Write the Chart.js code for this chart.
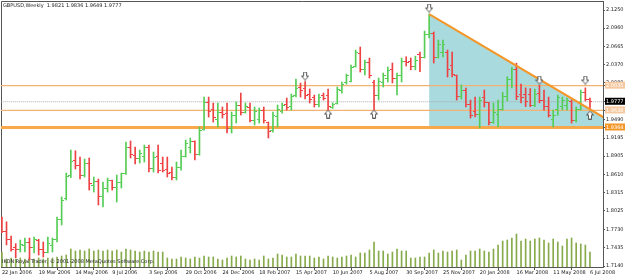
<!DOCTYPE html>
<html>
<head>
<meta charset="utf-8">
<style>
  html, body { margin: 0; padding: 0; background: #fff; }
  canvas { display: block; }
</style>
</head>
<body>
<canvas id="chart" width="625" height="277"></canvas>
<script src="https://cdn.jsdelivr.net/npm/chart.js"></script>
<script>
"use strict";

const titleText = 'GBPUSD,Weekly  1.9821 1.9836 1.9649 1.9777';
const copyText = 'IKON Royal Trader, \u00A9 2001-2008 MetaQuotes Software Corp.';

// one label every 8 weekly bars, first bar = 22 Jan 2006
const dateLabels = ['22 Jan 2006', '19 Mar 2006', '14 May 2006', '9 Jul 2006', '3 Sep 2006',
  '29 Oct 2006', '24 Dec 2006', '18 Feb 2007', '15 Apr 2007', '10 Jun 2007', '5 Aug 2007',
  '30 Sep 2007', '25 Nov 2007', '20 Jan 2008', '16 Mar 2008', '11 May 2008', '6 Jul 2008'];

const priceTicks = [2.1250, 2.0960, 2.0665, 2.0370, 2.0080, 1.9490, 1.9195, 1.8905,
  1.8610, 1.8315, 1.8025, 1.7730, 1.7435, 1.7140];

const opens = [1.7860,1.7700,1.7560,1.7440,1.7400,1.7470,1.7520,1.7430,1.7550,1.7400,
  1.7360,1.7470,1.7560,1.7880,1.8220,1.8600,1.8830,1.8750,1.8600,1.8790,
  1.8440,1.8500,1.8250,1.8390,1.8510,1.8400,1.8480,1.8620,1.9050,1.8920,
  1.8870,1.8900,1.9040,1.8700,1.8900,1.8780,1.8690,1.8640,1.8560,1.8720,
  1.8900,1.9050,1.9140,1.8930,1.9330,1.9770,1.9660,1.9500,1.9610,1.9590,
  1.9350,1.9550,1.9720,1.9610,1.9690,1.9480,1.9500,1.9640,1.9440,1.9310,
  1.9540,1.9620,1.9740,1.9700,1.9870,2.0000,1.9990,1.9890,1.9840,1.9740,
  1.9870,1.9880,1.9690,1.9750,1.9950,2.0080,2.0110,2.0340,2.0550,2.0300,
  2.0400,2.0090,1.9880,2.0080,2.0150,2.0300,2.0150,2.0200,2.0430,2.0420,
  2.0340,2.0540,2.0490,2.0850,2.0880,2.0490,2.0570,2.0560,2.0360,2.0200,
  1.9860,1.9950,1.9740,1.9620,1.9570,1.9850,1.9760,1.9450,1.9580,1.9650,
  1.9860,2.0140,2.0290,1.9900,1.9900,1.9900,1.9710,1.9910,1.9800,1.9700,
  1.9500,1.9660,1.9700,1.9720,1.9780,1.9480,1.9660,1.9930,1.9821];

const highs = [1.7925,1.7850,1.7620,1.7500,1.7558,1.7590,1.7590,1.7606,1.7570,1.7526,
  1.7606,1.7590,1.7927,1.8249,1.8633,1.9002,1.8990,1.8890,1.8858,1.8874,
  1.8569,1.8537,1.8489,1.8553,1.8520,1.8601,1.8633,1.9131,1.9147,1.9050,
  1.9002,1.9083,1.9083,1.8970,1.9083,1.8890,1.8890,1.8730,1.8810,1.9002,
  1.9163,1.9195,1.9150,1.9372,1.9853,1.9853,1.9757,1.9757,1.9693,1.9757,
  1.9613,1.9773,1.9917,1.9757,1.9757,1.9693,1.9677,1.9693,1.9452,1.9613,
  1.9725,1.9757,1.9837,1.9902,2.0142,2.0078,2.0100,1.9982,1.9885,1.9901,
  1.9917,1.9982,1.9760,2.0014,2.0094,2.0222,2.0367,2.0607,2.0656,2.0447,
  2.0479,2.0120,2.0158,2.0238,2.0335,2.0399,2.0238,2.0479,2.0500,2.0480,
  2.0510,2.0575,2.0912,2.1185,2.0897,2.0768,2.0768,2.0607,2.0575,2.0206,
  2.0046,1.9997,1.9805,1.9853,1.9853,1.9965,1.9770,1.9757,1.9805,1.9930,
  2.0180,2.0330,2.0397,2.0060,2.0000,1.9990,1.9980,2.0040,1.9965,1.9853,
  1.9644,1.9885,1.9853,1.9837,1.9805,1.9693,1.9965,2.0000,1.9836];

const lows = [1.7675,1.7480,1.7380,1.7275,1.7365,1.7365,1.7240,1.7350,1.7317,1.7285,
  1.7350,1.7365,1.7526,1.7799,1.8200,1.8560,1.8698,1.8537,1.8569,1.8360,
  1.8328,1.8120,1.8088,1.8328,1.8360,1.8168,1.8393,1.8610,1.8874,1.8780,
  1.8794,1.8810,1.8649,1.8649,1.8633,1.8649,1.8569,1.8521,1.8521,1.8681,
  1.8890,1.8954,1.8842,1.8920,1.9323,1.9532,1.9452,1.9372,1.9516,1.9275,
  1.9275,1.9436,1.9564,1.9596,1.9452,1.9404,1.9436,1.9436,1.9195,1.9291,
  1.9372,1.9596,1.9644,1.9644,1.9853,1.9853,1.9821,1.9757,1.9693,1.9693,
  1.9805,1.9644,1.9670,1.9740,1.9917,2.0060,2.0094,2.0335,2.0254,2.0206,
  2.0158,1.9644,1.9805,2.0014,2.0094,2.0078,1.9885,2.0094,2.0350,2.0290,
  2.0290,2.0260,2.0480,2.0800,2.0399,2.0479,2.0495,2.0174,2.0174,1.9805,
  1.9821,1.9693,1.9516,1.9532,1.9356,1.9693,1.9404,1.9430,1.9372,1.9640,
  1.9790,2.0000,1.9810,1.9760,1.9700,1.9700,1.9700,1.9760,1.9644,1.9532,
  1.9372,1.9560,1.9644,1.9644,1.9436,1.9452,1.9644,1.9790,1.9649];

const closes = [1.7700,1.7560,1.7410,1.7400,1.7480,1.7520,1.7430,1.7560,1.7400,1.7350,
  1.7500,1.7560,1.7880,1.8200,1.8580,1.8820,1.8760,1.8600,1.8790,1.8460,
  1.8500,1.8260,1.8390,1.8510,1.8400,1.8480,1.8620,1.9050,1.8930,1.8870,
  1.8940,1.9040,1.8700,1.8890,1.8680,1.8680,1.8620,1.8560,1.8720,1.8900,
  1.9100,1.9140,1.8930,1.9320,1.9770,1.9620,1.9530,1.9600,1.9580,1.9350,
  1.9560,1.9720,1.9600,1.9700,1.9480,1.9620,1.9640,1.9470,1.9300,1.9560,
  1.9650,1.9720,1.9690,1.9860,1.9990,1.9960,1.9880,1.9810,1.9740,1.9850,
  1.9830,1.9700,1.9740,1.9980,2.0060,2.0200,2.0330,2.0560,2.0300,2.0400,
  2.0200,1.9880,2.0100,2.0200,2.0280,2.0150,2.0200,2.0420,2.0400,2.0340,
  2.0440,2.0480,2.0850,2.0880,2.0480,2.0700,2.0700,2.0300,2.0220,1.9860,
  1.9950,1.9740,1.9560,1.9570,1.9800,1.9760,1.9450,1.9600,1.9650,1.9860,
  2.0140,2.0290,1.9860,1.9850,1.9780,1.9710,1.9900,1.9800,1.9700,1.9560,
  1.9560,1.9840,1.9800,1.9790,1.9480,1.9660,1.9930,1.9821,1.9777];

const volumes = [15000,8000,9000,8000,9000,8000,9000,8000,9000,8000,
  9000,9000,10000,11000,12000,18000,16000,17000,16000,18000,
  16000,17000,16000,17000,16000,17000,15000,18000,17000,16000,
  15000,16000,15000,16000,15000,15000,9000,8000,8000,10000,
  9000,8000,10000,9000,11000,10000,10000,8000,7000,9000,
  11000,10000,11000,8000,7000,8000,7000,11000,8000,9000,
  13000,12000,10000,10000,13000,11000,11000,11000,9000,10000,
  8000,11000,10000,9000,10000,11000,12000,10000,14000,14000,
  17000,25000,16000,16000,13000,15000,18000,16000,16000,9000,
  9000,10000,10000,14000,17000,14000,16000,15000,16000,17000,
  7000,12000,16000,16000,18000,16000,15000,18000,22000,26000,
  27000,29000,33000,26000,28000,26000,28000,29000,27000,24000,
  28000,25000,21000,28000,29000,24000,23000,22000,15000];

const resistLevel = 2.0035;
const midLevel = 1.9638;
const supportLevel = 1.9364;
const lastPrice = 1.9777;

// triangle: [week, price]
const triangle = [[93, 2.1185], [134.7, 1.9364], [93, 1.9364]];
const arrowsDown = [[66, 2.0190], [93, 2.1282], [117, 2.0126], [127, 2.0126]];
const arrowsUp = [[71, 1.9580], [81, 1.9580], [128, 1.9564]];

const UP = 'rgb(85, 205, 85)';
const DOWN = 'rgb(238, 66, 66)';
const VOL = 'rgb(135, 170, 75)';
const FONT = { family: '"DejaVu Sans"', size: 5 };

function tickImage(color, left) {
  const c = document.createElement('canvas');
  c.width = 5; c.height = 1;
  const g = c.getContext('2d');
  g.fillStyle = color;
  g.fillRect(left ? 0 : 3, 0, 2, 1);
  return c;
}
const openUp = tickImage(UP, true), openDown = tickImage(DOWN, true);
const closeUp = tickImage(UP, false), closeDown = tickImage(DOWN, false);

function arrowImage(down) {
  const c = document.createElement('canvas');
  c.width = 8; c.height = 9;
  const g = c.getContext('2d');
  const pts = [[2.5, 0.5], [5.5, 0.5], [5.5, 4.5], [7.5, 4.5], [4, 8.5], [0.5, 4.5], [2.5, 4.5]];
  g.beginPath();
  pts.forEach(([x, y], i) => {
    const yy = down ? y : 9 - y;
    if (i) g.lineTo(x, yy); else g.moveTo(x, yy);
  });
  g.closePath();
  g.fillStyle = '#fff';
  g.fill();
  g.strokeStyle = '#555';
  g.lineWidth = 1;
  g.stroke();
  return c;
}

const weeks = opens.map((_, i) => i);
const isUp = i => closes[i] >= opens[i];
const specials = [resistLevel, midLevel, supportLevel, lastPrice];
const isSpecial = v => specials.some(s => Math.abs(s - v) < 1e-6);

function specialBack(v) {
  if (Math.abs(v - lastPrice) < 1e-6) return '#000';
  if (Math.abs(v - supportLevel) < 1e-6) return 'rgb(245,150,40)';
  return 'rgb(246,200,160)';
}

function hLine(v, color, width, dash, order) {
  return {
    type: 'line', data: [{ x: -1, y: v }, { x: 140, y: v }],
    borderColor: color, borderWidth: width, borderDash: dash || [],
    pointRadius: 0, fill: false, order: order, yAxisID: 'y'
  };
}

const decor = {
  id: 'decor',
  beforeDatasetsDraw(chart) {
    const { ctx, chartArea: a } = chart;
    ctx.save();
    ctx.strokeStyle = '#555';
    ctx.lineWidth = 1;
    ctx.beginPath();
    ctx.moveTo(a.left + 0.5, a.bottom);
    ctx.lineTo(a.left + 0.5, a.top + 0.5);
    ctx.lineTo(a.right, a.top + 0.5);
    ctx.stroke();
    ctx.restore();
  },
  afterDraw(chart) {
    const { ctx, chartArea: a } = chart;
    ctx.save();
    ctx.font = '5px "DejaVu Sans"';
    ctx.fillStyle = '#222';
    ctx.textBaseline = 'middle';
    ctx.fillText(titleText, a.left + 2, a.top + 5);
    ctx.fillText(copyText, a.left + 1, a.bottom - 5);
    ctx.restore();
  }
};

new Chart(document.getElementById('chart'), {
  type: 'bar',
  data: {
    datasets: [
      {
        type: 'line', data: triangle.concat([triangle[0]]).map(([x, y]) => ({ x, y })),
        fill: 'shape', backgroundColor: 'rgb(168,218,222)', borderWidth: 0,
        pointRadius: 0, order: 20, yAxisID: 'y'
      },
      {
        type: 'bar', data: weeks.map(i => ({ x: i, y: volumes[i] })),
        backgroundColor: VOL, barThickness: 1, grouped: false, order: 15, yAxisID: 'yv'
      },
      hLine(resistLevel, 'rgb(243,178,115)', 1.3, null, 10),
      hLine(midLevel, 'rgb(243,178,115)', 1.3, null, 10),
      hLine(supportLevel, 'rgb(247,168,75)', 3, null, 10),
      hLine(lastPrice, '#aaa', 1, [1, 1], 10),
      {
        type: 'bar', data: weeks.map(i => ({ x: i, y: [lows[i], highs[i]] })),
        backgroundColor: c => isUp(c.dataIndex) ? UP : DOWN,
        barThickness: 1, grouped: false, order: 3, yAxisID: 'y'
      },
      {
        type: 'line', showLine: false, data: weeks.map(i => ({ x: i, y: opens[i] })),
        pointRadius: 2, pointStyle: c => isUp(c.dataIndex) ? openUp : openDown,
        order: 2, yAxisID: 'y'
      },
      {
        type: 'line', showLine: false, data: weeks.map(i => ({ x: i, y: closes[i] })),
        pointRadius: 2, pointStyle: c => isUp(c.dataIndex) ? closeUp : closeDown,
        order: 2, yAxisID: 'y'
      },
      {
        type: 'line', data: triangle.slice(0, 2).map(([x, y]) => ({ x, y })),
        borderColor: 'rgb(245,150,40)', borderWidth: 2, pointRadius: 0,
        order: 1, yAxisID: 'y'
      },
      {
        type: 'line', showLine: false, data: arrowsDown.map(([x, y]) => ({ x, y })),
        pointRadius: 3, pointStyle: arrowImage(true), order: 0, yAxisID: 'y'
      },
      {
        type: 'line', showLine: false, data: arrowsUp.map(([x, y]) => ({ x, y })),
        pointRadius: 3, pointStyle: arrowImage(false), order: 0, yAxisID: 'y'
      }
    ]
  },
  options: {
    responsive: false,
    animation: false,
    events: [],
    layout: { autoPadding: false, padding: { left: 1, top: 1, right: 0, bottom: 0 } },
    plugins: { legend: { display: false }, tooltip: { enabled: false } },
    scales: {
      x: {
        type: 'linear', min: -0.2, max: 130.84, offset: false,
        afterBuildTicks: s => { s.ticks = dateLabels.map((_, i) => ({ value: i * 8 })); },
        afterFit: s => { s.height = 10; s.paddingLeft = 0; s.paddingRight = 0; },
        ticks: {
          autoSkip: false, maxRotation: 0, align: 'start', padding: 0,
          font: FONT, color: '#222',
          callback: v => dateLabels[Math.round(v / 8)]
        },
        grid: { drawOnChartArea: false, tickLength: 3, color: '#555' },
        border: { color: '#555' }
      },
      y: {
        type: 'linear', position: 'right', min: 1.71248, max: 2.13945,
        afterBuildTicks: s => { s.ticks = priceTicks.concat(specials).map(v => ({ value: v })); },
        afterFit: s => { s.width = 22; s.paddingTop = 0; s.paddingBottom = 0; },
        ticks: {
          autoSkip: false, padding: 1, font: FONT,
          color: c => isSpecial(c.tick.value) ? '#fff' : '#222',
          showLabelBackdrop: c => isSpecial(c.tick.value),
          backdropColor: c => specialBack(c.tick.value),
          backdropPadding: { left: 1, right: 2, top: 1, bottom: 0 },
          callback: v => v.toFixed(4)
        },
        grid: { drawOnChartArea: false, tickLength: 2, color: '#555' },
        border: { color: '#555' }
      },
      yv: {
        type: 'linear', display: false, min: 0, max: 266000
      }
    }
  },
  plugins: [decor]
});
</script>
</body>
</html>
